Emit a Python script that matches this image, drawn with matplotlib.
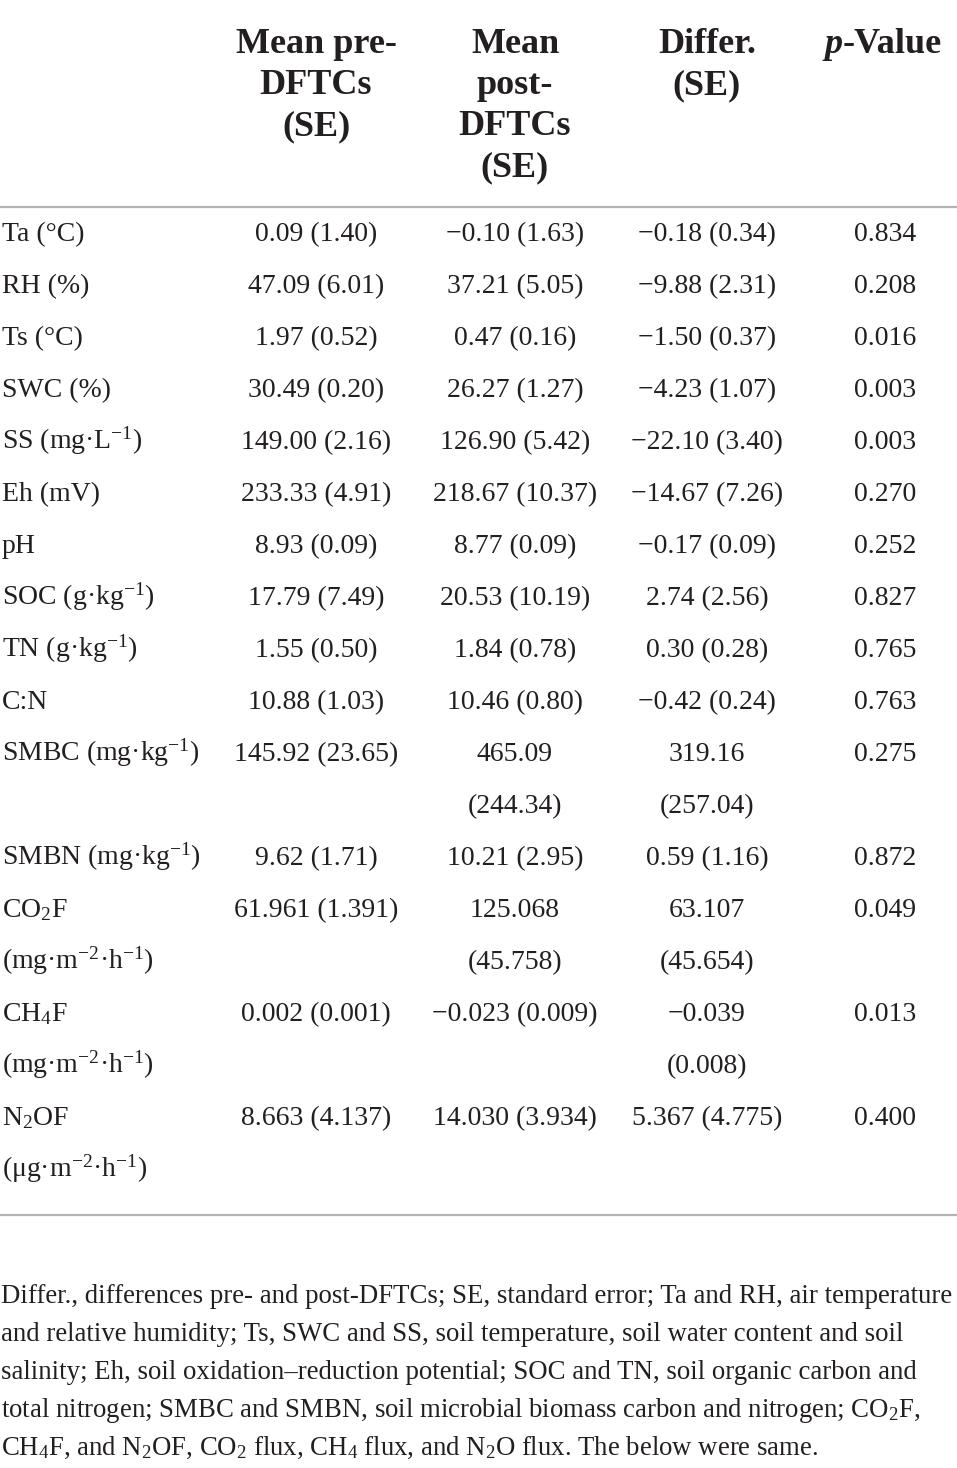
import matplotlib
matplotlib.use("Agg")
import matplotlib.pyplot as plt

plt.rcParams['font.family'] = ['Liberation Serif', 'DejaVu Serif']
plt.rcParams['mathtext.fontset'] = 'custom'
plt.rcParams['mathtext.rm'] = 'Liberation Serif'
plt.rcParams['mathtext.it'] = 'Liberation Serif:italic'
plt.rcParams['mathtext.bf'] = 'Liberation Serif:bold'

# ---------------- data ----------------
headers = ["Mean pre-\nDFTCs\n(SE)", "Mean\npost-\nDFTCs\n(SE)", "Differ.\n(SE)", "p-Value"]

row_labels = ["Ta (°C)", "RH (%)", "Ts (°C)", "SWC (%)", "SS (mg·L$^{-1}$)", "Eh (mV)", "pH",
              "SOC (g·kg$^{-1}$)", "TN (g·kg$^{-1}$)", "C:N", "SMBC (mg·kg$^{-1}$)",
              "SMBN (mg·kg$^{-1}$)", "CO$_2$F\n(mg·m$^{-2}$·h$^{-1}$)",
              "CH$_4$F\n(mg·m$^{-2}$·h$^{-1}$)", "N$_2$OF\n(μg·m$^{-2}$·h$^{-1}$)"]

pre_vals = ["0.09 (1.40)", "47.09 (6.01)", "1.97 (0.52)", "30.49 (0.20)", "149.00 (2.16)",
            "233.33 (4.91)", "8.93 (0.09)", "17.79 (7.49)", "1.55 (0.50)", "10.88 (1.03)",
            "145.92 (23.65)", "9.62 (1.71)", "61.961 (1.391)", "0.002 (0.001)", "8.663 (4.137)"]

post_vals = ["−0.10 (1.63)", "37.21 (5.05)", "0.47 (0.16)", "26.27 (1.27)", "126.90 (5.42)",
             "218.67 (10.37)", "8.77 (0.09)", "20.53 (10.19)", "1.84 (0.78)", "10.46 (0.80)",
             "465.09\n(244.34)", "10.21 (2.95)", "125.068\n(45.758)", "−0.023 (0.009)",
             "14.030 (3.934)"]

diff_vals = ["−0.18 (0.34)", "−9.88 (2.31)", "−1.50 (0.37)", "−4.23 (1.07)", "−22.10 (3.40)",
             "−14.67 (7.26)", "−0.17 (0.09)", "2.74 (2.56)", "0.30 (0.28)", "−0.42 (0.24)",
             "319.16\n(257.04)", "0.59 (1.16)", "63.107\n(45.654)", "−0.039\n(0.008)",
             "5.367 (4.775)"]

p_vals = ["0.834", "0.208", "0.016", "0.003", "0.003", "0.270", "0.252", "0.827", "0.765",
          "0.763", "0.275", "0.872", "0.049", "0.013", "0.400"]

footnote = [
    "Differ., differences pre- and post-DFTCs; SE, standard error; Ta and RH, air temperature",
    "and relative humidity; Ts, SWC and SS, soil temperature, soil water content and soil",
    "salinity; Eh, soil oxidation–reduction potential; SOC and TN, soil organic carbon and",
    "total nitrogen; SMBC and SMBN, soil microbial biomass carbon and nitrogen; CO$_2$F,",
    "CH$_4$F, and N$_2$OF, CO$_2$ flux, CH$_4$ flux, and N$_2$O flux. The below were same.",
]

# ---------------- layout ----------------
W, H = 957, 1468
fig = plt.figure(figsize=(W / 100, H / 100), dpi=100)
ax = fig.add_axes([0, 0, 1, 1])
ax.set_xlim(0, W)
ax.set_ylim(H, 0)
ax.axis('off')

TXT = '#231f20'
col_x = [316, 515, 707, 885]
HEAD_FS = 26
BODY_FS = 20
FOOT_FS = 19.25

# headers
head_base = 53
head_pitch = 41
for ci, h in enumerate(headers[:3]):
    for li, line in enumerate(h.split("\n")):
        ax.text(col_x[ci], head_base + li * head_pitch, line, ha='center', va='baseline',
                fontsize=HEAD_FS, fontweight='bold', color=TXT)
# p-Value header: italic p + bold -Value
ax.text(843, head_base, "p", ha='right', va='baseline', fontsize=HEAD_FS,
        fontweight='bold', fontstyle='italic', color=TXT)
ax.text(843, head_base, "-Value", ha='left', va='baseline', fontsize=HEAD_FS,
        fontweight='bold', color=TXT)

# rules
ax.plot([0, W], [207, 207], color='#b3b3b3', lw=1.6, solid_capstyle='butt')
ax.plot([0, W], [1215, 1215], color='#b3b3b3', lw=1.6, solid_capstyle='butt')

# body
base = 241
pitch = 52
for r in range(len(row_labels)):
    cells = [row_labels[r], pre_vals[r], post_vals[r], diff_vals[r], p_vals[r]]
    nlines = max(c.count("\n") + 1 for c in cells)
    for ci, cell in enumerate(cells):
        for li, line in enumerate(cell.split("\n")):
            y = base + li * pitch
            if ci == 0:
                ax.text(2, y, line, ha='left', va='baseline', fontsize=BODY_FS, color=TXT)
            else:
                ax.text(col_x[ci - 1], y, line, ha='center', va='baseline',
                        fontsize=BODY_FS, color=TXT)
    base += nlines * pitch

# footnote
fb = 1303
fp = 38
for li, line in enumerate(footnote):
    ax.text(1, fb + li * fp, line, ha='left', va='baseline', fontsize=FOOT_FS, color=TXT)

fig.savefig("out.png", dpi=100)
